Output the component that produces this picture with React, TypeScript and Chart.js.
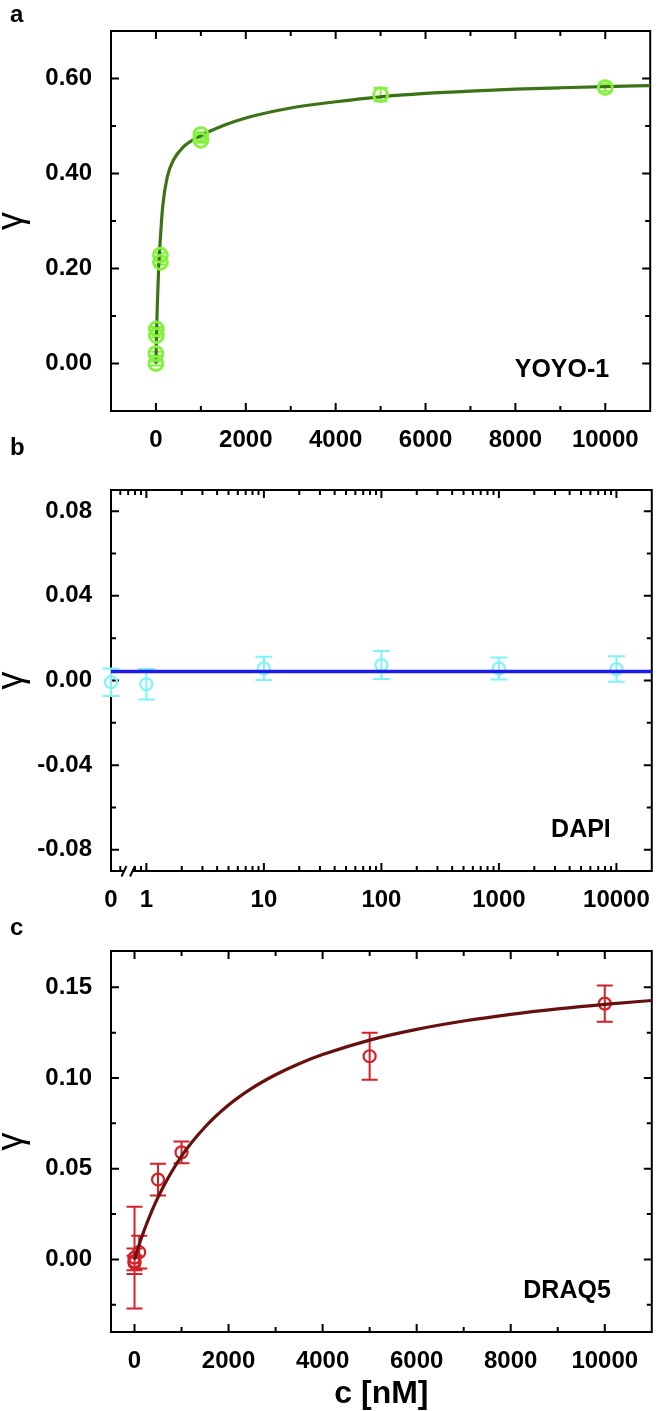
import React, { useEffect, useRef } from "react";
import { Chart, registerables } from "chart.js";
Chart.register(...registerables);

const FONT = '"Liberation Sans", Arial, Helvetica, sans-serif';

// ---------- Panel a : YOYO-1 ----------
const A_C = [0, 0, 10, 10, 100, 100, 1000, 1000, 5000, 10000];
const A_GAMMA = [0.0, 0.021, 0.059, 0.073, 0.213, 0.228, 0.47, 0.482, 0.566, 0.581];
const A_ERR = [0.004, 0.004, 0.004, 0.004, 0.005, 0.005, 0.005, 0.005, 0.014, 0.008];
const A_FIT_C = [0, 10, 30, 60, 100, 150, 250, 400, 600, 1000, 1500, 2000, 3000, 4000, 5000, 6000, 7000, 8000, 9000, 10000, 11000];
const A_FIT_GAMMA = [0, 0.045, 0.12, 0.2, 0.265, 0.33, 0.392, 0.43, 0.455, 0.48, 0.501, 0.517, 0.538, 0.551, 0.5615, 0.5685, 0.5735, 0.5775, 0.5805, 0.583, 0.585];
const A_X_MAJOR = [0, 2000, 4000, 6000, 8000, 10000];
const A_X_LABELS = ["0", "2000", "4000", "6000", "8000", "10000"];
const A_X_MINOR = [1000, 3000, 5000, 7000, 9000];
const A_Y_MAJOR = [0, 0.2, 0.4, 0.6];
const A_Y_LABELS = ["0.00", "0.20", "0.40", "0.60"];
const A_Y_MINOR = [0.1, 0.3, 0.5];

// ---------- Panel b : DAPI ----------
const B_C = [0, 1, 10, 100, 1000, 10000];
const B_GAMMA = [-0.0008, -0.0018, 0.0057, 0.0073, 0.0057, 0.0054];
const B_ERR = [0.0065, 0.0072, 0.0055, 0.0066, 0.0052, 0.006];
const B_FIT_GAMMA = 0.0042;
const B_X_MIN = 0.5; // axis break: c = 0 is shown at the left end
const B_X_MAX = 20000;
const B_X_MAJOR = [B_X_MIN, 1, 10, 100, 1000, 10000];
const B_X_LABELS = ["0", "1", "10", "100", "1000", "10000"];
const B_X_MINOR = [0.6, 0.7, 0.8, 0.9, 2, 3, 4, 5, 6, 7, 8, 9, 20, 30, 40, 50, 60, 70, 80, 90,
  200, 300, 400, 500, 600, 700, 800, 900, 2000, 3000, 4000, 5000, 6000, 7000, 8000, 9000];
const B_Y_MAJOR = [-0.08, -0.04, 0, 0.04, 0.08];
const B_Y_LABELS = ["-0.08", "-0.04", "0.00", "0.04", "0.08"];
const B_Y_MINOR = [-0.06, -0.02, 0.02, 0.06];

// ---------- Panel c : DRAQ5 ----------
const C_C = [0, 0, 0, 100, 500, 1000, 5000, 10000];
const C_GAMMA = [0.001, -0.001, -0.002, 0.004, 0.044, 0.059, 0.112, 0.141];
const C_ERR = [0.028, 0.007, 0.004, 0.009, 0.0087, 0.006, 0.013, 0.01];
const C_FIT_C = [0, 100, 250, 500, 1000, 1500, 2000, 2500, 3000, 3500, 4000, 5000, 6000, 7000, 8000, 9000, 10000, 11000];
const C_FIT_GAMMA = [0, 0.0082, 0.0191, 0.0343, 0.0569, 0.073, 0.0851, 0.0944, 0.1018, 0.1079, 0.1129, 0.1209, 0.1268, 0.1314, 0.1351, 0.1381, 0.1406, 0.1427];
const C_X_MAJOR = [0, 2000, 4000, 6000, 8000, 10000];
const C_X_LABELS = ["0", "2000", "4000", "6000", "8000", "10000"];
const C_X_MINOR = [1000, 3000, 5000, 7000, 9000];
const C_Y_MAJOR = [0, 0.05, 0.1, 0.15];
const C_Y_LABELS = ["0.00", "0.05", "0.10", "0.15"];
const C_Y_MINOR = [-0.025, 0.025, 0.075, 0.125];

const framePlugin = {
  id: "frameTicks",
  beforeDatasetsDraw(chart: any, _a: any, o: any) {
    const { ctx, chartArea: ca, scales } = chart;
    const x = scales.x, y = scales.y;
    ctx.save();
    ctx.strokeStyle = "#000";
    ctx.lineWidth = 2;
    ctx.beginPath();
    const seg = (x1: number, y1: number, x2: number, y2: number) => { ctx.moveTo(x1, y1); ctx.lineTo(x2, y2); };
    const xs: [number[], number][] = [[o.xMajor, 8], [o.xMinor, 5]];
    for (const [vals, len] of xs) for (const v of vals) {
      const p = x.getPixelForValue(v);
      seg(p, ca.bottom, p, ca.bottom - len);
      seg(p, ca.top, p, ca.top + len);
    }
    const ys: [number[], number][] = [[o.yMajor, 8], [o.yMinor, 5]];
    for (const [vals, len] of ys) for (const v of vals) {
      const p = y.getPixelForValue(v);
      seg(ca.left, p, ca.left + len, p);
      seg(ca.right, p, ca.right - len, p);
    }
    ctx.stroke();
    ctx.strokeRect(ca.left, ca.top, ca.right - ca.left, ca.bottom - ca.top);
    if (o.axisBreak) {
      ctx.fillStyle = "#fff";
      ctx.fillRect(ca.left + 13, ca.bottom - 6, 9, 8);
      ctx.beginPath();
      seg(ca.left + 10.5, ca.bottom + 5.5, ca.left + 15.5, ca.bottom - 5);
      seg(ca.left + 19, ca.bottom + 5.5, ca.left + 24, ca.bottom - 5);
      ctx.stroke();
    }
    ctx.restore();
  },
};

const errorPlugin = {
  id: "errorBars",
  beforeDatasetsDraw(chart: any) {
    const { ctx, scales } = chart;
    const x = scales.x, y = scales.y;
    chart.data.datasets.forEach((ds: any) => {
      if (!ds.errorBars) return;
      ctx.save();
      ctx.strokeStyle = ds.borderColor;
      ctx.lineWidth = 2;
      ctx.beginPath();
      ds.data.forEach((pt: any, i: number) => {
        const e = ds.errorBars[i];
        const px = x.getPixelForValue(pt.x);
        const y1 = y.getPixelForValue(pt.y + e);
        const y2 = y.getPixelForValue(pt.y - e);
        const w = ds.capHalf;
        ctx.moveTo(px, y1); ctx.lineTo(px, y2);
        ctx.moveTo(px - w, y1); ctx.lineTo(px + w, y1);
        ctx.moveTo(px - w, y2); ctx.lineTo(px + w, y2);
      });
      ctx.stroke();
      ctx.restore();
    });
  },
};

const textPlugin = {
  id: "panelText",
  afterDraw(chart: any, _a: any, o: any) {
    const { ctx, chartArea: ca } = chart;
    ctx.save();
    ctx.fillStyle = "#000";
    ctx.font = `bold 24px ${FONT}`;
    ctx.textAlign = "left";
    ctx.textBaseline = "alphabetic";
    ctx.fillText(o.letter, 10, o.letterBaseline);
    ctx.font = `bold 25px ${FONT}`;
    ctx.textAlign = "right";
    ctx.textBaseline = "middle";
    ctx.fillText(o.name, ca.right - 41, ca.bottom - 41);
    ctx.restore();
  },
};

type PanelDef = {
  top: number; height: number; plotTop: number; plotBottom: number;
  xType: string; xMin: number; xMax: number; yMin: number; yMax: number;
  xMajor: number[]; xLabels: string[]; xMinor: number[];
  yMajor: number[]; yLabels: string[]; yMinor: number[];
  datasets: any[]; letter: string; letterBaseline: number; name: string;
  xTitle?: string; axisBreak?: boolean;
};

const pts = (xs: number[], ys: number[]) => xs.map((c, i) => ({ x: c, y: ys[i] }));

const PANELS: PanelDef[] = [
  {
    top: 0, height: 470, plotTop: 31, plotBottom: 411,
    xType: "linear", xMin: -1000, xMax: 11000, yMin: -0.1, yMax: 0.7,
    xMajor: A_X_MAJOR, xLabels: A_X_LABELS, xMinor: A_X_MINOR,
    yMajor: A_Y_MAJOR, yLabels: A_Y_LABELS, yMinor: A_Y_MINOR,
    letter: "a", letterBaseline: 22, name: "YOYO-1",
    datasets: [
      {
        data: pts(A_C, A_GAMMA), errorBars: A_ERR, capHalf: 7,
        borderColor: "#82f23a", pointBorderColor: "#82f23a", pointBackgroundColor: "rgba(0,0,0,0)",
        pointRadius: 7, pointBorderWidth: 2.8, showLine: false, clip: false,
      },
      {
        data: pts(A_FIT_C, A_FIT_GAMMA), borderColor: "#3d7317", borderWidth: 3.2,
        pointRadius: 0, showLine: true, cubicInterpolationMode: "monotone", fill: false,
      },
    ],
  },
  {
    top: 430, height: 490, plotTop: 60, plotBottom: 441,
    xType: "logarithmic", xMin: B_X_MIN, xMax: B_X_MAX, yMin: -0.09, yMax: 0.09,
    xMajor: B_X_MAJOR, xLabels: B_X_LABELS, xMinor: B_X_MINOR,
    yMajor: B_Y_MAJOR, yLabels: B_Y_LABELS, yMinor: B_Y_MINOR,
    letter: "b", letterBaseline: 25, name: "DAPI", axisBreak: true,
    datasets: [
      {
        data: [{ x: B_X_MIN, y: B_FIT_GAMMA }, { x: B_X_MAX, y: B_FIT_GAMMA }],
        borderColor: "#1c1ce8", borderWidth: 3.5, pointRadius: 0, showLine: true, fill: false,
      },
      {
        data: pts(B_C.map((c) => (c === 0 ? B_X_MIN : c)), B_GAMMA), errorBars: B_ERR, capHalf: 8.5,
        borderColor: "#7ff3f7", pointBorderColor: "#7ff3f7", pointBackgroundColor: "rgba(0,0,0,0)",
        pointRadius: 6, pointBorderWidth: 2.2, showLine: false, clip: false,
      },
    ],
  },
  {
    top: 910, height: 501, plotTop: 41, plotBottom: 422,
    xType: "linear", xMin: -500, xMax: 11000, yMin: -0.04, yMax: 0.17,
    xMajor: C_X_MAJOR, xLabels: C_X_LABELS, xMinor: C_X_MINOR,
    yMajor: C_Y_MAJOR, yLabels: C_Y_LABELS, yMinor: C_Y_MINOR,
    letter: "c", letterBaseline: 25, name: "DRAQ5", xTitle: "c [nM]",
    datasets: [
      {
        data: pts(C_FIT_C, C_FIT_GAMMA), borderColor: "#661010", borderWidth: 3.2,
        pointRadius: 0, showLine: true, cubicInterpolationMode: "monotone", fill: false,
      },
      {
        data: pts(C_C, C_GAMMA), errorBars: C_ERR, capHalf: 8,
        borderColor: "#d42128", pointBorderColor: "#d42128", pointBackgroundColor: "rgba(0,0,0,0)",
        pointRadius: 6, pointBorderWidth: 2.2, showLine: false, clip: false,
      },
    ],
  },
];

function PanelChart({ p }: { p: PanelDef }) {
  const ref = useRef<HTMLCanvasElement>(null);
  useEffect(() => {
    if (!ref.current) return;
    const tickFont = { family: FONT, size: 24, weight: "bold" as const, lineHeight: 1 };
    const chart = new Chart(ref.current, {
      type: "scatter",
      data: { datasets: p.datasets },
      plugins: [framePlugin, errorPlugin, textPlugin],
      options: {
        animation: false,
        responsive: false,
        devicePixelRatio: 1,
        events: [],
        layout: { padding: { top: p.plotTop, right: 2, left: 0, bottom: 0 } },
        plugins: {
          legend: { display: false },
          tooltip: { enabled: false },
          frameTicks: { xMajor: p.xMajor, xMinor: p.xMinor, yMajor: p.yMajor, yMinor: p.yMinor, axisBreak: !!p.axisBreak },
          panelText: { letter: p.letter, letterBaseline: p.letterBaseline, name: p.name },
        } as any,
        scales: {
          x: {
            type: p.xType as any,
            min: p.xMin, max: p.xMax,
            grid: { display: false },
            border: { display: false },
            afterBuildTicks: (s: any) => { s.ticks = p.xMajor.map((v) => ({ value: v })); },
            afterFit: (s: any) => { s.height = p.height - p.plotBottom; },
            ticks: {
              autoSkip: false, maxRotation: 0, minRotation: 0, padding: 9, color: "#000",
              font: tickFont,
              callback: (_v: any, i: number) => p.xLabels[i],
            },
            title: p.xTitle
              ? { display: true, text: p.xTitle, color: "#000", font: { family: FONT, size: 32, weight: "bold", lineHeight: 1 }, padding: { top: 0, bottom: 1 } }
              : { display: false },
          } as any,
          y: {
            type: "linear",
            min: p.yMin, max: p.yMax,
            grid: { display: false },
            border: { display: false },
            afterBuildTicks: (s: any) => { s.ticks = p.yMajor.map((v) => ({ value: v })); },
            afterFit: (s: any) => { s.width = 111; },
            ticks: {
              autoSkip: false, padding: 11, color: "#000", font: tickFont,
              callback: (_v: any, i: number) => p.yLabels[i],
            },
            title: { display: true, text: "γ", color: "#000", font: { family: FONT, size: 36, weight: "normal", lineHeight: 1 }, padding: { top: -6, bottom: 0 } },
          } as any,
        },
      },
    });
    return () => chart.destroy();
  }, [p]);
  return (
    <canvas
      ref={ref}
      width={660}
      height={p.height}
      style={{ position: "absolute", left: 0, top: p.top, width: 660, height: p.height }}
    />
  );
}

export default function App() {
  return (
    <div style={{ position: "absolute", left: 0, top: 0, width: 660, height: 1411, background: "#fff" }}>
      {PANELS.map((p, i) => (
        <PanelChart key={i} p={p} />
      ))}
    </div>
  );
}
